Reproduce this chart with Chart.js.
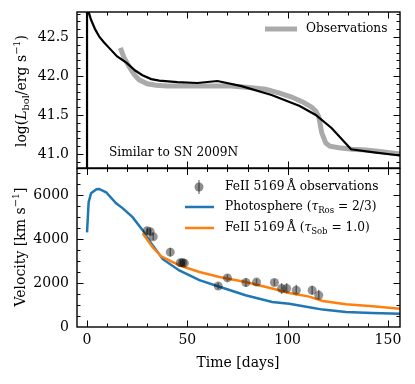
<!DOCTYPE html>
<html>
<head>
<meta charset="utf-8">
<script src="https://cdn.jsdelivr.net/npm/chart.js@4.4.1/dist/chart.umd.min.js"></script>
<style>
  body { margin: 0; background: #fff; }
  #wrap { position: relative; width: 415px; height: 384px; }
  canvas { position: absolute; left: 0; }
</style>
</head>
<body>
<div id="wrap">
  <canvas id="lumChart" width="415" height="172" style="top:0"></canvas>
  <canvas id="velChart" width="415" height="220" style="top:164px"></canvas>
</div>
<script>
// bolometric light curve (top panel)
const modelDays = [0, 0, 0.8, 2, 4, 6.2, 8.5, 11, 15, 19.6, 24, 27.6, 32, 36, 45, 55, 65, 77, 92, 106, 114, 122, 131.6, 143, 156];
const modelLum = [40.5, 43.0, 42.82, 42.72, 42.6, 42.5, 42.43, 42.36, 42.25, 42.17, 42.07, 42.01, 41.96, 41.94, 41.92, 41.91, 41.935, 41.87, 41.756, 41.615, 41.5, 41.33, 41.06, 41.02, 40.98];
const obsDays = [16.6, 18.5, 21, 23.5, 26, 30, 34.5, 40, 50, 60, 72, 82, 89, 96, 102, 108, 112, 114, 115.5, 117, 119, 121, 125.6, 132, 139, 147, 156];
const obsLum = [42.36, 42.23, 42.12, 42.02, 41.95, 41.9, 41.88, 41.87, 41.87, 41.87, 41.87, 41.85, 41.83, 41.78, 41.73, 41.66, 41.6, 41.55, 41.48, 41.27, 41.14, 41.1, 41.08, 41.06, 41.05, 41.03, 41.0];

// velocities (bottom panel)
const photDays = [0, 0.8, 2, 4.7, 6, 9.5, 14.5, 17.7, 22.7, 27.7, 32.7, 37.8, 46, 56, 66, 79, 92.3, 100.8, 110.7, 117.5, 129, 142, 156];
const photVel = [4300, 5670, 6080, 6260, 6270, 6120, 5620, 5400, 4990, 4400, 3710, 3080, 2570, 2130, 1830, 1440, 1140, 1060, 900, 790, 680, 640, 600];
const feDays = [27.7, 32.7, 37, 41, 46, 56, 66, 79, 92.3, 100.8, 110.7, 117.5, 129, 142.4, 156];
const feVel = [4260, 3620, 3210, 3030, 2800, 2500, 2270, 2045, 1745, 1545, 1380, 1180, 1030, 940, 830];
const feObsDays = [30, 31.5, 33, 41.5, 46.5, 47.6, 48.5, 65.4, 70, 79.2, 84.5, 93.4, 97, 99.5, 104.3, 112.2, 115.5];
const feObsVel = [4370, 4330, 4100, 3400, 2920, 2930, 2900, 1860, 2230, 2020, 2040, 2020, 1750, 1750, 1670, 1670, 1440];
const feObsErr = [150, 150, 150, 200, 150, 150, 150, 150, 150, 200, 150, 150, 250, 250, 250, 200, 250];

const xMajor = [0, 50, 100, 150];
const lumMajor = [41.0, 41.5, 42.0, 42.5];
const velMajor = [0, 2000, 4000, 6000];

const FONT = "'DejaVu Serif', serif";

function pts(xs, ys) {
  return xs.map((x, i) => ({ x: x, y: ys[i] }));
}

function minorTicks(lo, hi, step) {
  const out = [];
  for (let v = lo; v <= hi + 1e-9; v += step) out.push(Math.round(v * 1000) / 1000);
  return out;
}

// text with sub/superscripts: [text, kind]
function setFont(ctx, kind, size) {
  const s = (kind === 'sub' || kind === 'sup') ? size * 0.7 : size;
  ctx.font = (kind === 'i' ? 'italic ' : '') + s + 'px ' + FONT;
}
function richWidth(ctx, segs, size) {
  let w = 0;
  segs.forEach(([t, k]) => { setFont(ctx, k, size); w += ctx.measureText(t).width; });
  return w;
}
function drawRich(ctx, segs, x, y, size) {
  ctx.textBaseline = 'middle';
  ctx.textAlign = 'left';
  segs.forEach(([t, k]) => {
    setFont(ctx, k, size);
    let dy = 0;
    if (k === 'sub') dy = size * 0.3;
    if (k === 'sup') dy = -size * 0.35;
    ctx.fillText(t, x, y + dy);
    x += ctx.measureText(t).width;
  });
}

function drawFrame(chart, yMinorStep, yLo, yHi, yMajor) {
  const { ctx, chartArea: a, scales } = chart;
  ctx.save();
  ctx.strokeStyle = '#000';
  ctx.lineWidth = 1;
  ctx.beginPath();
  const xs = scales.x, ys = scales.y;
  const tick = (v, len, horiz) => {
    if (horiz) {
      const p = Math.round(xs.getPixelForValue(v)) + 0.5;
      if (p < a.left || p > a.right) return;
      ctx.moveTo(p, a.bottom); ctx.lineTo(p, a.bottom - len);
      ctx.moveTo(p, a.top); ctx.lineTo(p, a.top + len);
    } else {
      const p = Math.round(ys.getPixelForValue(v)) + 0.5;
      if (p < a.top || p > a.bottom) return;
      ctx.moveTo(a.left, p); ctx.lineTo(a.left + len, p);
      ctx.moveTo(a.right, p); ctx.lineTo(a.right - len, p);
    }
  };
  minorTicks(-10, 160, 10).forEach(v => tick(v, 3.5, true));
  xMajor.forEach(v => tick(v, 6.5, true));
  minorTicks(yLo, yHi, yMinorStep).forEach(v => tick(v, 3.5, false));
  yMajor.forEach(v => tick(v, 6.5, false));
  ctx.stroke();
  ctx.lineWidth = 1.4;
  ctx.strokeRect(a.left, a.top, a.right - a.left, a.bottom - a.top);
  ctx.restore();
}

const lumPlugin = {
  id: 'lumDeco',
  afterDraw(chart) {
    const ctx = chart.ctx;
    drawFrame(chart, 0.1, 40.8, 42.9, lumMajor);
    ctx.save();
    ctx.fillStyle = '#000';
    // y title
    const segs = [['log(', 'n'], ['L', 'i'], ['bol', 'sub'], ['/erg s', 'n'], ['\u22121', 'sup'], [')', 'n']];
    ctx.translate(22, 91);
    ctx.rotate(-Math.PI / 2);
    drawRich(ctx, segs, -richWidth(ctx, segs, 14) / 2, 0, 14);
    ctx.restore();
    ctx.save();
    ctx.fillStyle = '#000';
    // legend
    ctx.strokeStyle = '#aaaaaa';
    ctx.lineWidth = 5;
    ctx.beginPath(); ctx.moveTo(265, 29); ctx.lineTo(297, 29); ctx.stroke();
    drawRich(ctx, [['Observations', 'n']], 306, 29, 12.2);
    drawRich(ctx, [['Similar to SN 2009N', 'n']], 109, 153, 12.2);
    ctx.restore();
  }
};

const velPlugin = {
  id: 'velDeco',
  beforeDatasetsDraw(chart) {
    // error bars for the FeII measurements
    const { ctx, scales } = chart;
    ctx.save();
    ctx.strokeStyle = 'rgba(0,0,0,0.45)';
    ctx.lineWidth = 1.5;
    ctx.beginPath();
    feObsDays.forEach((d, i) => {
      const px = scales.x.getPixelForValue(d);
      ctx.moveTo(px, scales.y.getPixelForValue(feObsVel[i] - feObsErr[i]));
      ctx.lineTo(px, scales.y.getPixelForValue(feObsVel[i] + feObsErr[i]));
    });
    ctx.stroke();
    ctx.restore();
  },
  afterDraw(chart) {
    const ctx = chart.ctx;
    drawFrame(chart, 500, 0, 7000, velMajor);
    ctx.save();
    ctx.fillStyle = '#000';
    const segs = [['Velocity [km s', 'n'], ['\u22121', 'sup'], [']', 'n']];
    ctx.translate(21, 247 - 164);
    ctx.rotate(-Math.PI / 2);
    drawRich(ctx, segs, -richWidth(ctx, segs, 14) / 2, 0, 14);
    ctx.restore();
    ctx.save();
    ctx.fillStyle = '#000';
    const xt = [['Time [days]', 'n']];
    drawRich(ctx, xt, 238 - richWidth(ctx, xt, 14) / 2, 363 - 164, 14);
    // legend
    const ly = [187 - 164, 207 - 164, 228 - 164];
    ctx.fillStyle = 'rgba(0,0,0,0.45)';
    ctx.beginPath(); ctx.arc(199, ly[0], 4.5, 0, Math.PI * 2); ctx.fill();
    ctx.strokeStyle = 'rgba(0,0,0,0.45)';
    ctx.lineWidth = 1.5;
    ctx.beginPath(); ctx.moveTo(199, ly[0] - 7); ctx.lineTo(199, ly[0] + 7); ctx.stroke();
    ctx.lineWidth = 2.5;
    ctx.strokeStyle = '#1f77b4';
    ctx.beginPath(); ctx.moveTo(185, ly[1]); ctx.lineTo(214, ly[1]); ctx.stroke();
    ctx.strokeStyle = '#ff7f0e';
    ctx.beginPath(); ctx.moveTo(185, ly[2]); ctx.lineTo(214, ly[2]); ctx.stroke();
    ctx.fillStyle = '#000';
    drawRich(ctx, [['FeII 5169\u2009\u00c5 observations', 'n']], 225, ly[0], 12.2);
    drawRich(ctx, [['Photosphere (', 'n'], ['\u03c4', 'i'], ['Ros', 'sub'], [' = 2/3)', 'n']], 225, ly[1], 12.2);
    drawRich(ctx, [['FeII 5169\u2009\u00c5 (', 'n'], ['\u03c4', 'i'], ['Sob', 'sub'], [' = 1.0)', 'n']], 225, ly[2], 12.2);
    ctx.restore();
  }
};

const xScale = (show) => ({
  type: 'linear',
  min: -5,
  max: 156,
  display: show,
  grid: { display: false, drawTicks: false },
  border: { display: false },
  afterBuildTicks: s => { s.ticks = xMajor.map(v => ({ value: v })); },
  afterFit: s => {
    if (show) s.height = 57;
    s.paddingLeft = 0; s.paddingRight = 0;
  },
  ticks: { font: { family: FONT, size: 14 }, color: '#000', padding: 5, maxRotation: 0 }
});

const yScale = (min, max, majors, fmt) => ({
  type: 'linear',
  min: min,
  max: max,
  grid: { display: false, drawTicks: false },
  border: { display: false },
  afterBuildTicks: s => { s.ticks = majors.map(v => ({ value: v })); },
  afterFit: s => { s.width = 77; s.paddingTop = 0; s.paddingBottom = 0; },
  ticks: { font: { family: FONT, size: 14 }, color: '#000', padding: 8, callback: fmt }
});

new Chart(document.getElementById('lumChart'), {
  type: 'line',
  data: {
    datasets: [
      { data: pts(modelDays, modelLum), borderColor: '#000', borderWidth: 2.2, pointRadius: 0, order: 0 },
      { data: pts(obsDays, obsLum), borderColor: '#aaaaaa', borderWidth: 5, pointRadius: 0, order: 1 }
    ]
  },
  options: {
    responsive: false,
    animation: false,
    layout: { padding: { top: 12, bottom: 4, right: 15, left: 0 } },
    plugins: { legend: { display: false }, tooltip: { enabled: false } },
    scales: {
      x: xScale(false),
      y: yScale(40.82, 42.82, lumMajor, v => v.toFixed(1))
    }
  },
  plugins: [lumPlugin]
});

new Chart(document.getElementById('velChart'), {
  type: 'line',
  data: {
    datasets: [
      { type: 'scatter', data: pts(feObsDays, feObsVel), backgroundColor: 'rgba(0,0,0,0.42)', borderWidth: 0, pointRadius: 4.5, order: 0 },
      { data: pts(feDays, feVel), borderColor: '#ff7f0e', borderWidth: 2.5, pointRadius: 0, order: 1 },
      { data: pts(photDays, photVel), borderColor: '#1f77b4', borderWidth: 2.5, pointRadius: 0, order: 2 }
    ]
  },
  options: {
    responsive: false,
    animation: false,
    layout: { padding: { top: 4, bottom: 0, right: 15, left: 0 } },
    plugins: { legend: { display: false }, tooltip: { enabled: false } },
    scales: {
      x: xScale(true),
      y: yScale(0, 7200, velMajor, v => String(v))
    }
  },
  plugins: [velPlugin]
});
</script>
</body>
</html>
